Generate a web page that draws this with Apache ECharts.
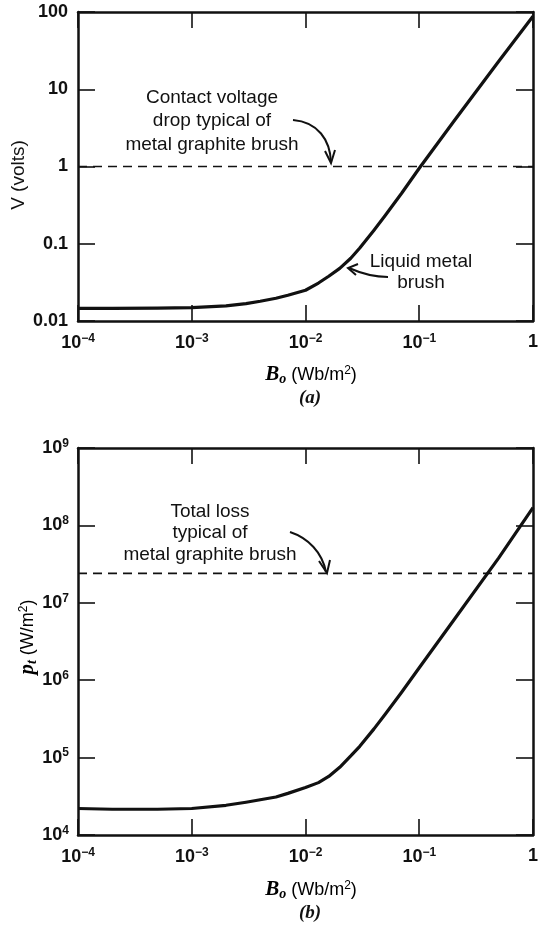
<!DOCTYPE html>
<html>
<head>
<meta charset="utf-8">
<script src="https://cdn.jsdelivr.net/npm/echarts@6/dist/echarts.min.js"></script>
<style>
  html, body { margin: 0; padding: 0; background: #fff; }
  #chart { width: 541px; height: 927px; }
</style>
</head>
<body>
<div id="chart"></div>
<script>
// field strength B_o (Wb/m^2), shared by both panels
const fieldB = [1e-4, 2e-4, 5e-4, 1e-3, 2e-3, 3e-3, 4e-3, 5.5e-3, 7e-3, 1e-2, 1.3e-2, 1.6e-2, 2e-2, 2.5e-2, 3e-2, 4e-2, 5e-2, 7e-2, 0.1, 0.2, 0.5, 1]
// (a) liquid metal brush voltage drop (volts)
const voltageV = [0.0146, 0.0146, 0.0147, 0.0149, 0.0157, 0.0168, 0.018, 0.0197, 0.0215, 0.025, 0.031, 0.038, 0.048, 0.065, 0.088, 0.15, 0.23, 0.45, 0.95, 3.8, 23, 88]
// (b) liquid metal brush total loss (W/m^2)
const lossP = [2.2e4, 2.15e4, 2.15e4, 2.2e4, 2.42e4, 2.65e4, 2.85e4, 3.1e4, 3.45e4, 4.1e4, 4.75e4, 5.7e4, 7.5e4, 1.05e5, 1.4e5, 2.35e5, 3.6e5, 7.0e5, 1.45e6, 5.9e6, 3.8e7, 1.7e8]
// metal graphite brush reference levels
const contactDrop = 1
const graphiteLoss = 2.4e7
const voltTickLabels = ['0.01', '0.1', '1', '10', '100']

const INK = '#111'
const SANS = 'Liberation Sans'
const SERIF = 'Liberation Serif'

const supRich = {
  sup: { fontSize: 12, fontWeight: 'bold', fontFamily: SANS, color: INK, padding: [0, 0, 9, 0] }
}

function expOf(v) {
  return Math.round(Math.log10(v))
}

function baseAxis(extra) {
  return Object.assign({
    type: 'log',
    logBase: 10,
    axisLine: { show: true, lineStyle: { color: INK, width: 2.5 } },
    axisTick: { show: true, inside: true, length: 16, lineStyle: { color: INK, width: 1.6 } },
    splitLine: { show: false },
    minorTick: { show: false }
  }, extra)
}

function xLabel() {
  return {
    margin: 12,
    color: INK,
    fontSize: 18,
    fontWeight: 'bold',
    fontFamily: SANS,
    formatter: function (v) {
      const e = expOf(v)
      if (e === 0) return '1'
      return '10{sup|\u2212' + (-e) + '}'
    },
    rich: supRich
  }
}

const grids = [
  { left: 78, top: 12, width: 461, height: 309 },
  { left: 78, top: 448, width: 461, height: 387 }
]

const xAxes = [
  baseAxis({ gridIndex: 0, position: 'bottom', min: 1e-4, max: 1, axisLabel: xLabel() }),
  baseAxis({ gridIndex: 0, position: 'top', min: 1e-4, max: 1, axisLabel: { show: false } }),
  baseAxis({ gridIndex: 1, position: 'bottom', min: 1e-4, max: 1, axisLabel: xLabel() }),
  baseAxis({ gridIndex: 1, position: 'top', min: 1e-4, max: 1, axisLabel: { show: false } })
]

const yTick = { show: true, inside: true, length: 17, lineStyle: { color: INK, width: 1.6 } }

const yAxes = [
  baseAxis({
    gridIndex: 0, position: 'left', min: 0.01, max: 100, axisTick: yTick,
    axisLabel: {
      margin: 10, color: INK, fontSize: 18, fontWeight: 'bold', fontFamily: SANS,
      formatter: function (v) { return voltTickLabels[expOf(v) + 2] }
    }
  }),
  baseAxis({ gridIndex: 0, position: 'right', min: 0.01, max: 100, axisTick: yTick, axisLabel: { show: false } }),
  baseAxis({
    gridIndex: 1, position: 'left', min: 1e4, max: 1e9, axisTick: yTick,
    axisLabel: {
      margin: 9, color: INK, fontSize: 18, fontWeight: 'bold', fontFamily: SANS,
      formatter: function (v) { return '10{sup|' + expOf(v) + '}' },
      rich: supRich
    }
  }),
  baseAxis({ gridIndex: 1, position: 'right', min: 1e4, max: 1e9, axisTick: yTick, axisLabel: { show: false } })
]

function curve(xi, yi, values) {
  return {
    type: 'line',
    xAxisIndex: xi,
    yAxisIndex: yi,
    data: fieldB.map((b, i) => [b, values[i]]),
    smooth: false,
    showSymbol: false,
    silent: true,
    lineStyle: { color: INK, width: 3.2, join: 'round' },
    z: 3
  }
}

function level(xi, yi, value) {
  return {
    type: 'line',
    xAxisIndex: xi,
    yAxisIndex: yi,
    data: [[1e-4, value], [1, value]],
    showSymbol: false,
    silent: true,
    lineStyle: { color: INK, width: 1.6, type: [9, 6] },
    z: 2
  }
}

const annoFont = { fontFamily: SANS, fontSize: 19, fill: INK }

function txt(x, y, text, lh) {
  return {
    type: 'text', x: x, y: y, silent: true,
    style: Object.assign({ text: text, align: 'center', verticalAlign: 'top', lineHeight: lh }, annoFont)
  }
}

function arrow(shape, head) {
  return [
    { type: 'bezierCurve', silent: true, shape: shape, style: { stroke: INK, lineWidth: 2, fill: null } },
    { type: 'polyline', silent: true, shape: { points: head }, style: { stroke: INK, lineWidth: 2, fill: null } }
  ]
}

const nameRich = {
  bi: { fontFamily: SERIF, fontStyle: 'italic', fontWeight: 'bold', fontSize: 21, color: INK },
  sub: { fontFamily: SERIF, fontStyle: 'italic', fontWeight: 'bold', fontSize: 14, color: INK, padding: [8, 0, 0, 0] },
  n: { fontFamily: SANS, fontSize: 18, color: INK },
  sup: { fontFamily: SANS, fontSize: 12, color: INK, padding: [0, 0, 9, 0] }
}

const graphics = [
  txt(212, 86, 'Contact voltage\ndrop typical of\nmetal graphite brush', 23.5),
  txt(421, 251, 'Liquid metal\nbrush', 21),
  txt(210, 501, 'Total loss\ntypical of\nmetal graphite brush', 21.5),
  ...arrow({ x1: 293, y1: 120, cpx1: 318, cpy1: 122, cpx2: 330, cpy2: 140, x2: 331, y2: 162 },
    [[325, 151], [331, 163], [335, 150]]),
  ...arrow({ x1: 388, y1: 277, cpx1: 370, cpy1: 277, cpx2: 358, cpy2: 272, x2: 349, y2: 268 },
    [[358, 264], [348, 268], [356, 275]]),
  ...arrow({ x1: 290, y1: 532, cpx1: 308, cpy1: 538, cpx2: 322, cpy2: 552, x2: 326, y2: 572 },
    [[319, 561], [327, 573], [330, 560]]),
  // axis titles
  {
    type: 'text', x: 19, y: 175, rotation: Math.PI / 2, silent: true,
    style: { text: 'V (volts)', align: 'center', verticalAlign: 'middle', fontFamily: SANS, fontSize: 19, fill: INK }
  },
  {
    type: 'text', x: 28, y: 637, rotation: Math.PI / 2, silent: true,
    style: { text: '{bi|p}{sub|t}{n| (W/m}{sup|2}{n|)}', align: 'center', verticalAlign: 'middle', rich: nameRich }
  },
  {
    type: 'text', x: 311, y: 375, silent: true,
    style: { text: '{bi|B}{sub|o}{n| (Wb/m}{sup|2}{n|)}', align: 'center', verticalAlign: 'middle', rich: nameRich }
  },
  {
    type: 'text', x: 311, y: 890, silent: true,
    style: { text: '{bi|B}{sub|o}{n| (Wb/m}{sup|2}{n|)}', align: 'center', verticalAlign: 'middle', rich: nameRich }
  },
  {
    type: 'text', x: 310, y: 398, silent: true,
    style: { text: '(a)', align: 'center', verticalAlign: 'middle', fontFamily: SERIF, fontStyle: 'italic', fontWeight: 'bold', fontSize: 19, fill: INK }
  },
  {
    type: 'text', x: 310, y: 913, silent: true,
    style: { text: '(b)', align: 'center', verticalAlign: 'middle', fontFamily: SERIF, fontStyle: 'italic', fontWeight: 'bold', fontSize: 19, fill: INK }
  }
]

const chart = echarts.init(document.getElementById('chart'), null, { renderer: 'canvas' })
chart.setOption({
  animation: false,
  backgroundColor: '#fff',
  grid: grids,
  xAxis: xAxes,
  yAxis: yAxes,
  series: [
    curve(0, 0, voltageV),
    level(0, 0, contactDrop),
    curve(2, 2, lossP),
    level(2, 2, graphiteLoss)
  ],
  graphic: graphics
})
</script>
</body>
</html>
